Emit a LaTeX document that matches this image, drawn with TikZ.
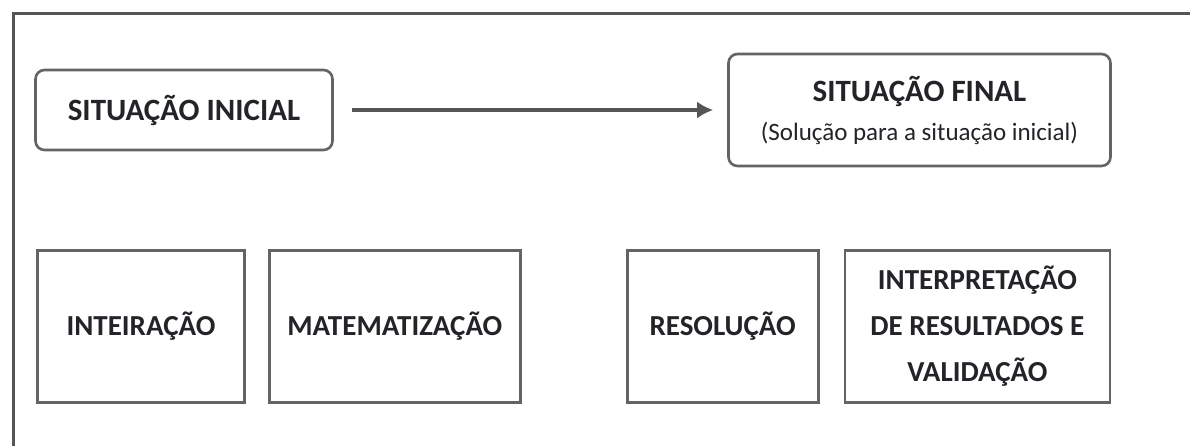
\documentclass[tikz,border=0pt]{standalone}
\usepackage{fontspec}
\setmainfont{Carlito}
\usepackage{tikz}
\usetikzlibrary{positioning}
\usetikzlibrary{arrows.meta}

\definecolor{framegray}{RGB}{85,85,85}
\definecolor{boxgray}{RGB}{100,100,100}
\definecolor{textdark}{RGB}{35,35,40}

\newcommand{\subfont}{\fontsize{25}{30}\mdseries\selectfont}

\begin{document}
\begin{tikzpicture}[
  x=1pt, y=-1pt,
  node distance=22pt
]

  \path[use as bounding box] (0,0) rectangle (1190,446);

  \tikzstyle{roundnode}=[draw=boxgray,rounded corners=9pt,line width=2.6pt,fill=white,inner sep=0pt,font=\fontsize{31}{36}\bfseries,text=textdark,align=center]
  \tikzstyle{stepnode}=[draw=boxgray,rectangle,line width=2.8pt,fill=white,minimum height=152pt,inner sep=0pt,font=\fontsize{29}{46}\bfseries,text=textdark,align=center]
  \tikzstyle{pointer}=[draw=framegray,line width=4pt,-{Latex[length=16pt,width=17pt]}]

  % frame
  \draw[framegray,line width=3pt] (13,470) -- (13,14) -- (1210,14);

  % nodes
  \node[roundnode,minimum width=297pt,minimum height=80pt] (ini) at (184,110) {SITUAÇÃO INICIAL};
  \node[roundnode,minimum width=382pt,minimum height=112pt] (fin) at (919.5,110) {SITUAÇÃO FINAL\\[3pt]{\subfont(Solução para a situação inicial)}};

  \node[stepnode,minimum width=207pt] (inte) at (141,326.5) {INTEIRAÇÃO};
  \node[stepnode,minimum width=251pt] (mate) [right=22pt of inte] {MATEMATIZAÇÃO};
  \node[stepnode,minimum width=191pt] (reso) [right=104pt of mate] {RESOLUÇÃO};
  \node[stepnode,minimum width=265pt] (inter) [right=24pt of reso] {INTERPRETAÇÃO\\DE RESULTADOS E\\VALIDAÇÃO};

  % pointers
  \draw[pointer,shorten <=18pt,shorten >=14pt] (ini) -- (fin);

\end{tikzpicture}
\end{document}
